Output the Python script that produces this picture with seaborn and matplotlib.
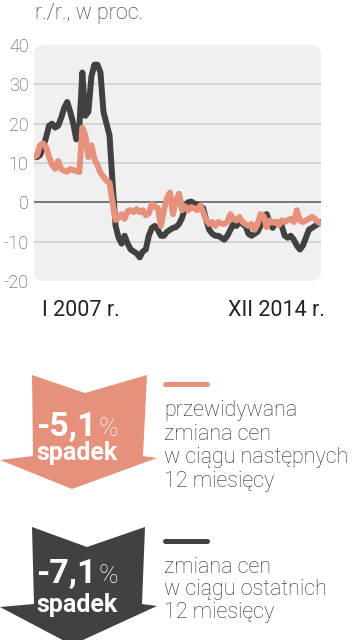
import numpy as np
import pandas as pd
import matplotlib.pyplot as plt
import seaborn as sns
from matplotlib.patches import FancyBboxPatch, Polygon

# dane miesięczne I 2007 - XII 2014
miesiace = list(range(96))
ostatnie = [11.5, 11.5, 12, 14, 16.5, 19.5, 20, 19, 19.5, 21.5, 24, 25.5,
            23, 20, 16, 19, 33, 22, 23, 32, 35, 35, 33, 23,
            20, 17, 5, -6, -9, -10.5, -8.5, -10.5, -12, -12.5, -13, -14,
            -12.5, -12, -8.5, -6.5, -6, -7, -8.5, -8.5, -7.5, -7, -6.5, -6.3,
            -5.5, -4, -1.5, 0, 0.2, -0.3, -0.5, -1, -1.5, -4.5, -7, -8,
            -8.5, -8.5, -9, -9.5, -8.5, -7, -5.5, -6, -5, -5.5, -6, -8,
            -8.5, -8, -7.5, -6, -3.5, -3, -5, -6.5, -5, -5.5, -6, -8.5,
            -9, -8.5, -9.5, -11, -12, -11, -9, -7, -6.5, -6, -5.5, -5]
przewidywana = [11.5, 12, 14.5, 15, 14, 11.5, 9.5, 8.5, 10.5, 8.5, 8, 7.8,
                8.5, 8.2, 8, 7.7, 19, 17, 11.5, 14.5, 11, 9.5, 7.5, 6.5,
                5.5, 5, 0, -4.5, -4, -3, -4.2, -2.2, -2, -2.5, -1.7, -2.5,
                -2, -3.3, -2.8, -0.5, -1, -1.5, -6, -2, 1, 2.5, -3, 0.5,
                2.2, -2, -1, -2, -1.2, -1.5, -2, -0.8, -2.5, -4.5, -5.5, -5,
                -6, -5, -5.4, -5.5, -5, -3, -4.2, -4.6, -3.7, -5, -5.5, -6,
                -5.5, -7, -5.5, -3, -3.5, -6.3, -4.6, -5.2, -5, -5.8, -4.6, -5,
                -4.5, -4.2, -5, -2, -4.6, -5, -4.6, -4.2, -3.7, -4.2, -5, -5.4]
y_ticks = [40, 30, 20, 10, 0, -10, -20]
x_labels = ["I 2007 r.", "XII 2014 r."]
zmiana_przew = "-5,1"
zmiana_ost = "-7,1"

ORANGE = "#e6917b"
DARK = "#414141"
TXT = "#2e2e2e"

df = pd.DataFrame({
    "m": miesiace * 2,
    "v": ostatnie + przewidywana,
    "seria": ["ost"] * 96 + ["przew"] * 96,
})

sns.set_style("white")
plt.rcParams["font.family"] = ["Roboto", "DejaVu Sans"]

W, H = 353, 640
fig = plt.figure(figsize=(W / 100, H / 100), dpi=100)
ax = fig.add_axes([34 / W, 1 - 281 / H, 287 / W, 236 / H])
ax.set_facecolor("none")
ax.add_patch(FancyBboxPatch((0, 0), 1, 1, transform=ax.transAxes,
                            boxstyle="round,pad=0,rounding_size=0.035",
                            mutation_aspect=287 / 236,
                            fc="#f0f0f0", ec="none", zorder=0))
for g in [30, 20, 10, -10]:
    ax.axhline(g, color="#cdcdcd", lw=1.1, zorder=1)
ax.axhline(0, color="#555555", lw=1.1, zorder=1)

sns.lineplot(data=df, x="m", y="v", hue="seria", hue_order=["ost", "przew"],
             palette={"ost": DARK, "przew": ORANGE}, lw=4.3, legend=False,
             ax=ax, zorder=3, solid_joinstyle="round", solid_capstyle="round")

ax.set_xlim(0, 95)
ax.set_ylim(-20, 40)
ax.set_yticks(y_ticks)
ax.set_yticklabels([str(t) for t in y_ticks], fontsize=13, color="#444444",
                   fontweight="light")
ax.set_xticks([])
ax.tick_params(axis="y", length=0, pad=4)
ax.set_xlabel("")
ax.set_ylabel("")
sns.despine(ax=ax, left=True, bottom=True)
ax.text(0.028, -0.125, x_labels[0], transform=ax.transAxes, ha="left",
        va="center", fontsize=15.5, color="#222222")
ax.text(1.013, -0.125, x_labels[1], transform=ax.transAxes, ha="right",
        va="center", fontsize=15.5, color="#222222")

# nakładka w pikselach: tytuł, strzałki, opis
ov = fig.add_axes([0, 0, 1, 1], zorder=-1)
ov.set_xlim(0, W)
ov.set_ylim(H, 0)
ov.axis("off")
ov.text(35, 14, "r./r., w proc.", ha="left", va="center", fontsize=15.5,
        color=TXT, fontweight="light")

arrows = [
    (ORANGE, [(32, 375), (85, 393), (147, 375), (143, 456), (157, 458),
              (72, 489), (0, 460), (33, 456)], 436, 460, 384, zmiana_przew),
    (DARK, [(32, 527), (87, 547), (145, 527), (142, 604), (157, 606),
            (72, 645), (0, 607), (34, 604)], 583, 612, 541, zmiana_ost),
]
for col, pts, yv, ys, yl, val in arrows:
    ov.add_patch(Polygon(pts, closed=True, fc=col, ec="none"))
    ov.text(97, yv, val, ha="right", va="baseline", fontsize=24.5,
            fontweight="bold", color="white")
    ov.text(98, yv, "%", ha="left", va="baseline", fontsize=19,
            color="white", fontweight="light")
    ov.text(77, ys, "spadek", ha="center", va="baseline", fontsize=18,
            fontweight="bold", color="white")
    ov.plot([165, 207], [yl, yl], color=col, lw=3.6, solid_capstyle="round")

opis1 = ["przewidywana", "zmiana cen", "w ciągu następnych", "12 miesięcy"]
opis2 = ["zmiana cen", "w ciągu ostatnich", "12 miesięcy"]
for i, s in enumerate(opis1):
    ov.text(164, 416 + i * 23.5, s, ha="left", va="baseline", fontsize=15.5,
            color=TXT, fontweight="light")
for i, s in enumerate(opis2):
    ov.text(164, 573 + i * 22.5, s, ha="left", va="baseline", fontsize=15.5,
            color=TXT, fontweight="light")

fig.savefig("out.png", dpi=100, facecolor="white")
